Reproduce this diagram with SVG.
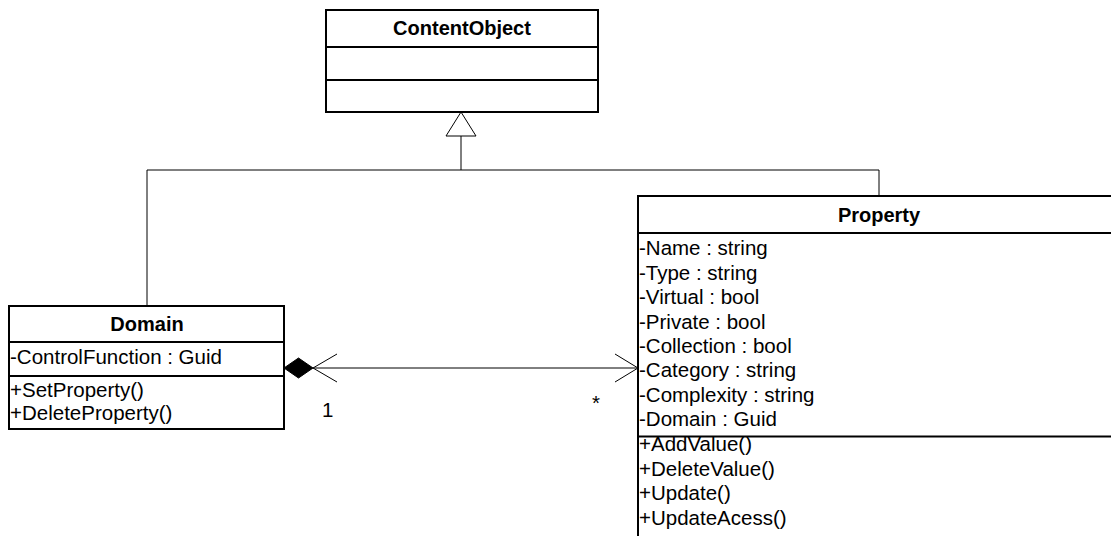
<svg xmlns="http://www.w3.org/2000/svg" width="1111" height="536" viewBox="0 0 1111 536">
<style>
.box{fill:#fff;stroke:#000;stroke-width:2}
.sep{stroke:#000;stroke-width:2}
.ln{stroke:#000;stroke-width:1;fill:none}
text{font-family:"Liberation Sans",Arial,sans-serif;font-size:20.5px;fill:#000}
.t{font-weight:bold;text-anchor:middle;font-size:20px}
</style>
<rect width="1111" height="536" fill="#fff"/>
<g id="connectors">
<polyline class="ln" points="147,306 147,170 879,170 879,196"/>
<line class="ln" x1="461" y1="170" x2="461" y2="136"/>
<polygon points="461,112 446,136 476,136" fill="#fff" stroke="#000" stroke-width="1"/>
<line class="ln" x1="313" y1="368" x2="638" y2="368"/>
<polygon points="284,368 298.5,358 313,368 298.5,378" fill="#000" stroke="#000" stroke-width="1"/>
<polyline class="ln" points="337,354 313,368 337,382"/>
<polyline class="ln" points="615,354 638,368 615,382"/>
<text x="322" y="417">1</text>
<text x="592" y="410">*</text>
</g>
<g id="ContentObject">
<rect class="box" x="326" y="10" width="272" height="102"/>
<line class="sep" x1="326" y1="47" x2="598" y2="47"/>
<line class="sep" x1="326" y1="80" x2="598" y2="80"/>
<text class="t" x="462" y="35">ContentObject</text>
</g>
<g id="Domain">
<rect class="box" x="9" y="306" width="275" height="123"/>
<line class="sep" x1="9" y1="342" x2="284" y2="342"/>
<line class="sep" x1="9" y1="376" x2="284" y2="376"/>
<text class="t" x="147" y="331">Domain</text>
<text x="10" y="364">-ControlFunction : Guid</text>
<text x="10" y="396.5">+SetProperty()</text>
<text x="10" y="420">+DeleteProperty()</text>
</g>
<g id="Property">
<rect class="box" x="638" y="196" width="520" height="400"/>
<line class="sep" x1="638" y1="233" x2="1120" y2="233"/>
<line class="sep" x1="638" y1="436.5" x2="1120" y2="436.5"/>
<text class="t" x="879" y="222">Property</text>
<text x="639" y="255">-Name : string</text>
<text x="639" y="279.5">-Type : string</text>
<text x="639" y="304">-Virtual : bool</text>
<text x="639" y="328.5">-Private : bool</text>
<text x="639" y="353">-Collection : bool</text>
<text x="639" y="377">-Category : string</text>
<text x="639" y="401.5">-Complexity : string</text>
<text x="639" y="426">-Domain : Guid</text>
<text x="639" y="451">+AddValue()</text>
<text x="639" y="475.5">+DeleteValue()</text>
<text x="639" y="500">+Update()</text>
<text x="639" y="524.5">+UpdateAcess()</text>
</g>
</svg>
